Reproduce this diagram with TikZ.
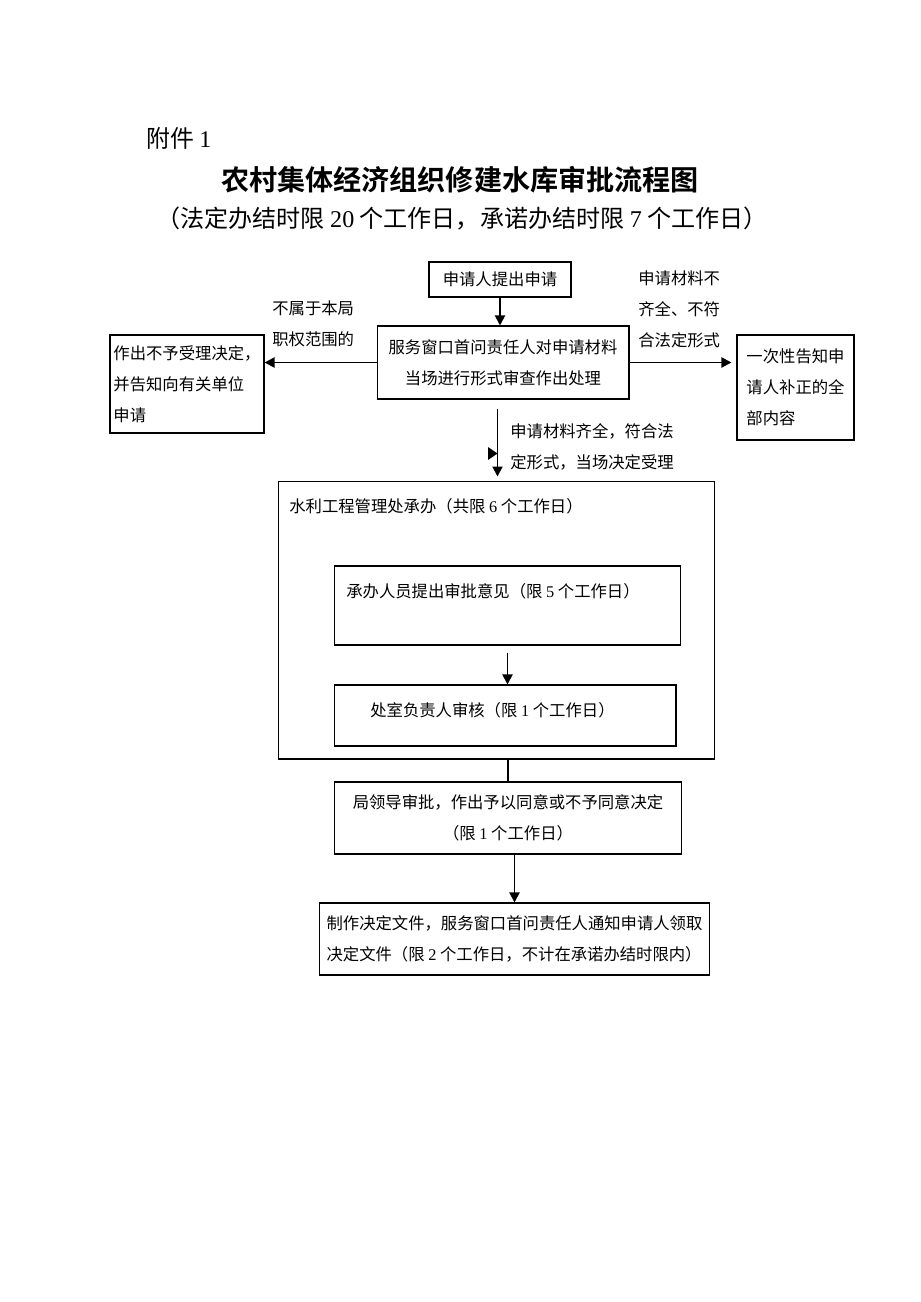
\documentclass[tikz,border=0pt]{standalone}
\usepackage{fontspec}
\setmainfont{Liberation Serif}
\newfontfamily\cjk{Noto Sans CJK SC}
\newfontfamily\cjkhei{Noto Sans CJK SC Bold}
\usetikzlibrary{calc}
\usetikzlibrary{arrows.meta}
\newcommand{\nm}[1]{{\rmfamily #1}}
\tikzset{
 box/.style={draw, line width=0.6pt, inner sep=0pt, align=center, font=\cjk\fontsize{9.3}{17.6}\selectfont},
 txt/.style={inner sep=0pt, align=left, font=\cjk\fontsize{9.3}{17.6}\selectfont},
 arr/.style={line width=1.1pt, -{Triangle[length=0.2cm,width=0.2cm]}},
}

\begin{document}
\begin{tikzpicture}[x=0.02cm, y=-0.02cm]
\fill[white] (0,0) rectangle (920,1302);
\node[anchor=west, font=\cjk\fontsize{13.6}{16}\selectfont] (fj) at (140,138) {附件 \nm{1}};
\node[font=\cjkhei\fontsize{16}{19}\selectfont] (title) at (460,180) {农村集体经济组织修建水库审批流程图};
\node[font=\cjk\fontsize{13.7}{17}\selectfont] (sub) at (462,218) {（法定办结时限 \nm{20} 个工作日，承诺办结时限 \nm{7} 个工作日）};

\node[box, minimum width=2.84cm, minimum height=0.70cm] (A) at (500,279.5) {申请人提出申请};
\node[box, minimum width=5.04cm, minimum height=1.46cm] (B) at (503,362.5) {服务窗口首问责任人对申请材料\\当场进行形式审查作出处理};
\node[box, align=left, minimum width=3.08cm, minimum height=1.96cm] (C) at (187,384) {作出不予受理决定，\\并告知向有关单位\\申请};
\node[box, align=left, minimum width=2.34cm, minimum height=2.10cm] (D) at (795.5,387.5) {一次性告知申\\请人补正的全\\部内容};
\node[txt, anchor=west] (Lno) at (272,324) {不属于本局\\职权范围的};
\node[txt, anchor=west] (Lbu) at (638,309) {申请材料不\\齐全、不符\\合法定形式};
\node[txt, anchor=west] (Lok) at (510,446.5) {申请材料齐全，符合法\\定形式，当场决定受理};

\node[box, minimum width=8.74cm, minimum height=5.56cm] (E) at (496.5,620) {};
\node[txt, anchor=west] (Et) at (289,506) {水利工程管理处承办（共限 \nm{6} 个工作日）};
\node[box, minimum width=6.94cm, minimum height=1.58cm] (F) at (507.5,605.5) {};
\node[txt, anchor=west] (Ft) at (346,591) {承办人员提出审批意见（限 \nm{5} 个工作日）};
\node[box, minimum width=6.84cm, minimum height=1.22cm] (G) at (505,715.5) {};
\node[txt, anchor=west] (Gt) at (370,710) {处室负责人审核（限 \nm{1} 个工作日）};

\node[box, minimum width=6.96cm, minimum height=1.44cm] (H) at (508,818) {局领导审批，作出予以同意或不予同意决定\\（限 \nm{1} 个工作日）};
\node[box, align=left, minimum width=7.82cm, minimum height=1.44cm] (I) at (514.5,939) {制作决定文件，服务窗口首问责任人通知申请人领取\\决定文件（限 \nm{2} 个工作日，不计在承诺办结时限内）};

\draw[arr] (A.south) -- (A.south |- B.north);
\draw[arr] (B.west) -- (B.west -| C.east);
\draw[arr] (B.east) -- ([xshift=-0.1cm]B.east -| D.west);
\draw[arr] ([shift={(-0.11cm,-0.18cm)}]B.south) -- ([shift={(-0.11cm,0.08cm)}]B.south |- E.north);
\fill (488,447) -- (497.5,453.5) -- (488,460) -- cycle;
\draw[arr] ([yshift=-0.14cm]F.south) -- (F.south |- G.north);
\draw[line width=1.1pt] (H.north |- E.south) -- (H.north);
\draw[arr] (I.north |- H.south) -- (I.north);
\end{tikzpicture}
\end{document}
